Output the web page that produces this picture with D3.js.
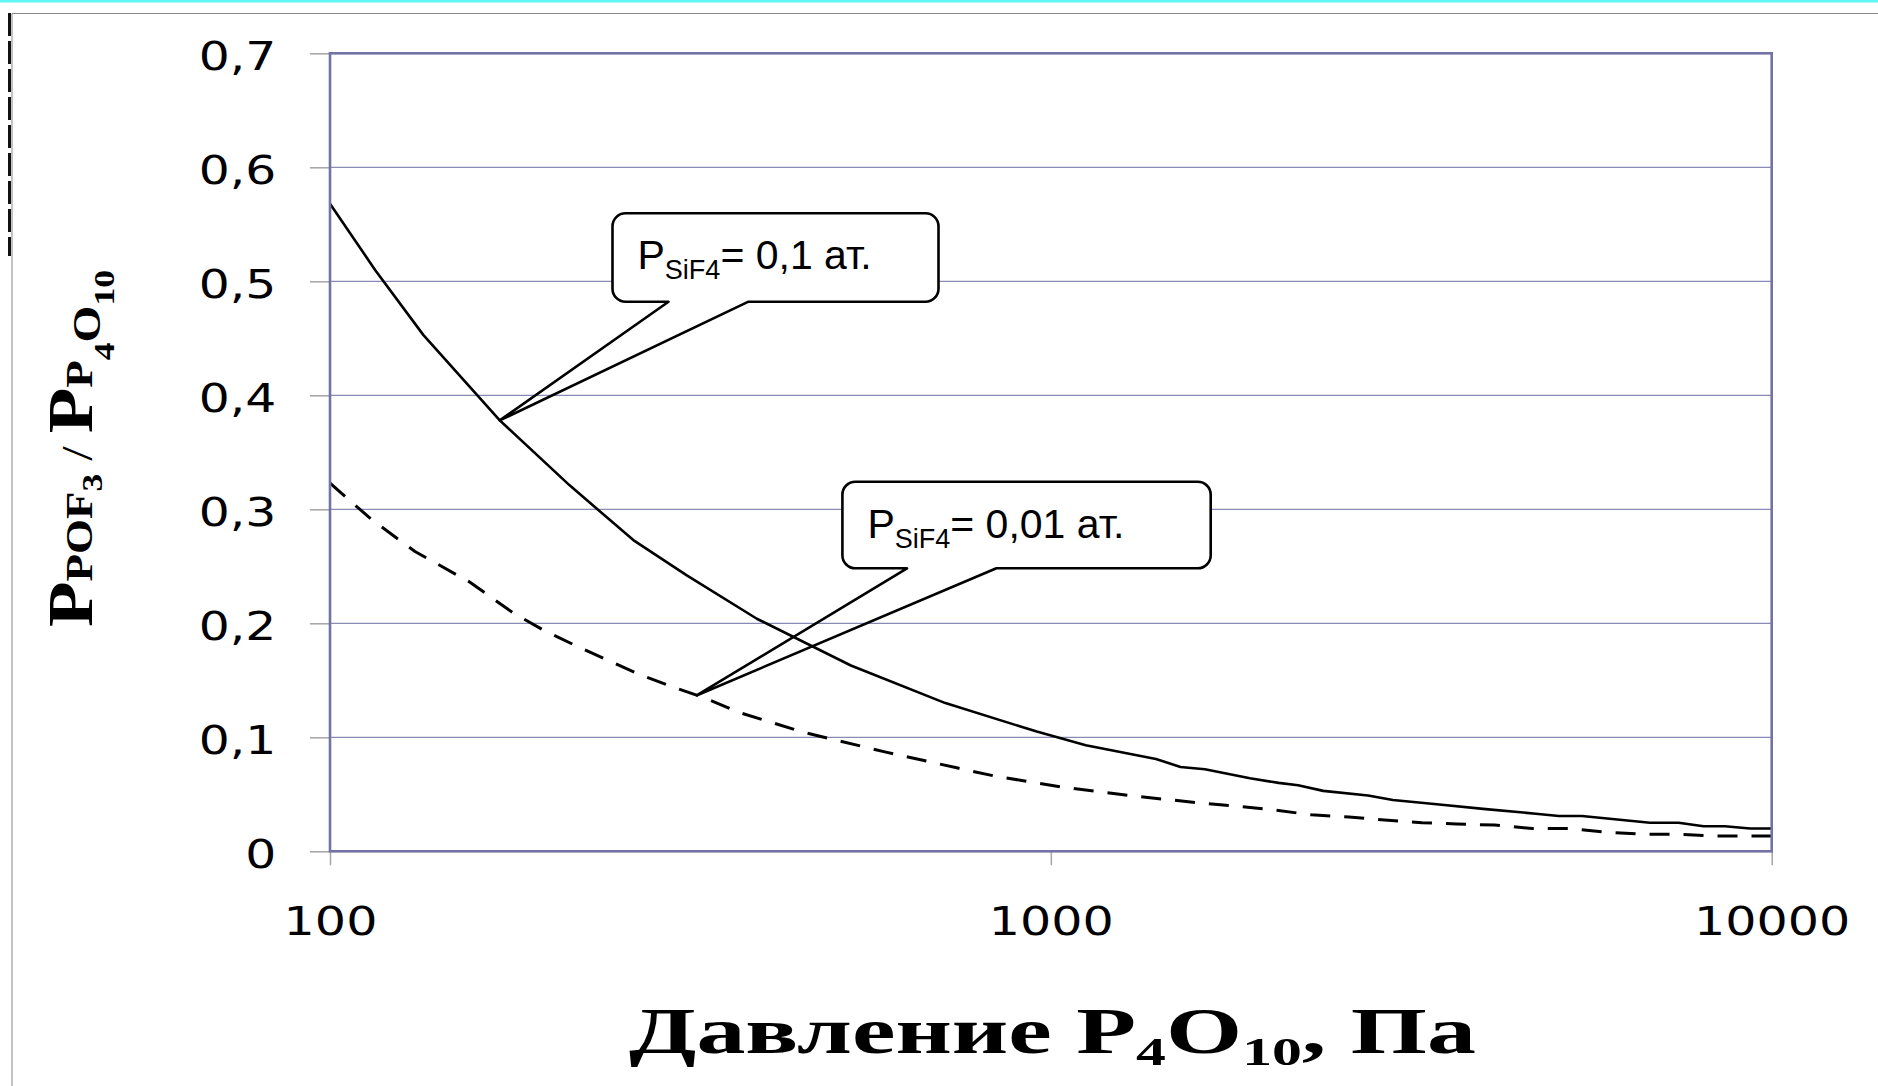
<!DOCTYPE html>
<html>
<head>
<meta charset="utf-8">
<script src="https://cdn.jsdelivr.net/npm/d3@7"></script>
<style>
  html, body { margin: 0; padding: 0; background: #fff; overflow: hidden; }
  svg { display: block; }
</style>
</head>
<body>
<svg id="chart" width="1878" height="1086"></svg>
<script>
// Partial pressure of P4O10, Pa — curve for P(SiF4) = 0.1 atm (solid)
const pressureHigh = [100, 115.5, 134.7, 172, 215, 263.5, 312.6, 391, 528, 714, 956, 1118,
  1399, 1513, 1636, 1889, 2070, 2203, 2387, 2754, 2982, 3458, 4011, 4706, 5068, 5455,
  6779, 7428, 8045, 8613, 9331, 10000];
const ratioHigh = [0.568, 0.510, 0.453, 0.378, 0.321, 0.273, 0.242, 0.204, 0.163, 0.130, 0.105, 0.093,
  0.081, 0.074, 0.072, 0.064, 0.060, 0.058, 0.053, 0.049, 0.045, 0.041, 0.037, 0.033, 0.031, 0.031,
  0.025, 0.025, 0.022, 0.022, 0.020, 0.020];

// Curve for P(SiF4) = 0.01 atm (dashed)
const pressureLow = [100, 114.2, 131.2, 156.4, 179.6, 197.7, 219.9, 242, 269.2, 299.5, 326.1, 372.9,
  456.2, 590.5, 743, 835.6, 1045.6, 1323, 1636, 1998, 2299, 2592, 2904, 3273, 3660, 4127,
  4651, 5218, 5844, 6588, 7390, 8318, 10000];
const ratioLow = [0.323, 0.291, 0.263, 0.236, 0.209, 0.194, 0.180, 0.168, 0.155, 0.144, 0.136, 0.121,
  0.104, 0.087, 0.073, 0.066, 0.056, 0.048, 0.042, 0.037, 0.032, 0.030, 0.0275, 0.025, 0.024, 0.023,
  0.020, 0.020, 0.017, 0.015, 0.015, 0.0134, 0.0134];

// Axis ticks
const xTicks = [100, 1000, 10000];
const xTickLabels = ["100", "1000", "10000"];
const yTicks = [0, 0.1, 0.2, 0.3, 0.4, 0.5, 0.6, 0.7];
const yTickLabels = ["0", "0,1", "0,2", "0,3", "0,4", "0,5", "0,6", "0,7"];

// Callout captions and the pressure each one points at
const calloutValues = ["0,1", "0,01"];
const calloutPressure = [172, 323];

const svg = d3.select("#chart");
const W = 1878, H = 1086;
const plot = { left: 330, right: 1771.7, top: 53.3, bottom: 851.3 };

const x = d3.scaleLog().domain([100, 10000]).range([plot.left, plot.right]);
const y = d3.scaleLinear().domain([0, 0.7]).range([plot.bottom, plot.top]);

// page frame decorations
svg.append("rect").attr("x", 0).attr("y", 0).attr("width", W).attr("height", 2.5).attr("fill", "#5ff6f6");
svg.append("line").attr("x1", 12).attr("x2", W).attr("y1", 13.5).attr("y2", 13.5)
  .attr("stroke", "#8a8a8a").attr("stroke-width", 1.2);
svg.append("line").attr("x1", 12).attr("x2", 12).attr("y1", 13.5).attr("y2", H)
  .attr("stroke", "#9a9a9a").attr("stroke-width", 1.2);
svg.append("line").attr("x1", 9.5).attr("x2", 9.5).attr("y1", 13).attr("y2", 256)
  .attr("stroke", "#111").attr("stroke-width", 3).attr("stroke-dasharray", "23,5");

// horizontal gridlines
svg.append("g").selectAll("line").data(yTicks.filter(d => d > 0)).join("line")
  .attr("x1", plot.left).attr("x2", plot.right)
  .attr("y1", d => y(d)).attr("y2", d => y(d))
  .attr("stroke", "#8a8ab6").attr("stroke-width", 1.3);

// y axis
const yAxis = svg.append("g").attr("transform", `translate(${plot.left},0)`)
  .call(d3.axisLeft(y).tickValues(yTicks).tickFormat((d, i) => yTickLabels[i]).tickSize(20));
yAxis.select(".domain").remove();
yAxis.selectAll(".tick line").attr("stroke", "#a4a4a4").attr("stroke-width", 1.5);
yAxis.selectAll(".tick text")
  .attr("x", 0).attr("y", 16).attr("dy", null)
  .attr("text-anchor", "end")
  .attr("transform", "translate(-53.7,0) scale(1.27,1)")
  .style("font-family", "'DejaVu Sans', sans-serif").style("font-size", "38.4px").attr("fill", "#000");

// x axis
const xAxis = svg.append("g").attr("transform", `translate(0,${plot.bottom})`)
  .call(d3.axisBottom(x).tickValues(xTicks).tickFormat((d, i) => xTickLabels[i]).tickSize(14));
xAxis.select(".domain").remove();
xAxis.selectAll(".tick line").attr("stroke", "#a4a4a4").attr("stroke-width", 1.5);
xAxis.selectAll(".tick text")
  .attr("y", 83.7).attr("dy", null)
  .attr("text-anchor", "middle")
  .attr("transform", "scale(1.28,1)")
  .style("font-family", "'DejaVu Sans', sans-serif").style("font-size", "38.4px").attr("fill", "#000");

// curves
const high = pressureHigh.map((p, i) => ({ p, r: ratioHigh[i] }));
const low = pressureLow.map((p, i) => ({ p, r: ratioLow[i] }));
const line = d3.line().x(d => x(d.p)).y(d => y(d.r));

svg.append("path").datum(high).attr("d", line)
  .attr("fill", "none").attr("stroke", "#000").attr("stroke-width", 2.6).attr("stroke-linejoin", "round");
svg.append("path").datum(low).attr("d", line)
  .attr("fill", "none").attr("stroke", "#000").attr("stroke-width", 3).attr("stroke-dasharray", "20,14");

// plot border
svg.append("rect")
  .attr("x", plot.left).attr("y", plot.top)
  .attr("width", plot.right - plot.left).attr("height", plot.bottom - plot.top)
  .attr("fill", "none").attr("stroke", "#7272a4").attr("stroke-width", 2.6);

// value of a series at a given pressure (linear in log-pressure between points)
function valueAt(series, p) {
  const lp = Math.log10(p);
  for (let i = 1; i < series.length; i++) {
    const a = series[i - 1], b = series[i];
    if (p <= b.p) {
      const t = (lp - Math.log10(a.p)) / (Math.log10(b.p) - Math.log10(a.p));
      return a.r + t * (b.r - a.r);
    }
  }
  return series[series.length - 1].r;
}

// callouts: rounded box with a pointer down to the curve
const callouts = [
  { box: { x: 612.5, y: 213.3, w: 326, h: 88.4 }, base: [56, 136], series: high, p: calloutPressure[0], label: calloutValues[0] },
  { box: { x: 842.4, y: 481.7, w: 368.3, h: 86.6 }, base: [64.6, 154], series: low, p: calloutPressure[1], label: calloutValues[1] }
];

callouts.forEach(c => {
  const { x: bx, y: by, w, h } = c.box;
  const r = 13;
  const tx = x(c.p), ty = y(valueAt(c.series, c.p));
  const g = svg.append("g");
  g.append("rect").attr("x", bx).attr("y", by).attr("width", w).attr("height", h).attr("rx", r).attr("fill", "#fff");
  const path = d3.path();
  path.moveTo(bx + r, by);
  path.lineTo(bx + w - r, by);
  path.arcTo(bx + w, by, bx + w, by + r, r);
  path.lineTo(bx + w, by + h - r);
  path.arcTo(bx + w, by + h, bx + w - r, by + h, r);
  path.lineTo(bx + c.base[1], by + h);
  path.lineTo(tx, ty);
  path.lineTo(bx + c.base[0], by + h);
  path.lineTo(bx + r, by + h);
  path.arcTo(bx, by + h, bx, by + h - r, r);
  path.lineTo(bx, by + r);
  path.arcTo(bx, by, bx + r, by, r);
  path.closePath();
  g.append("path").attr("d", path.toString())
    .attr("fill", "none").attr("stroke", "#000").attr("stroke-width", 2.6).attr("stroke-linejoin", "round");

  const t = g.append("text")
    .attr("x", bx + 25).attr("y", by + 56)
    .style("font-family", "'Liberation Sans', Arial, sans-serif").style("font-size", "41px").attr("fill", "#000");
  t.append("tspan").text("P");
  t.append("tspan").attr("dy", 10).style("font-size", "27px").text("SiF4");
  t.append("tspan").attr("dy", -10).text(`= ${c.label} ат.`);
});

// y axis title: P(POF3) / P(P4O10)
const yTitle = svg.append("g").attr("transform", "translate(92,448.5) rotate(-90)")
  .append("text")
  .attr("text-anchor", "middle")
  .style("font-family", "'Liberation Serif', 'Times New Roman', serif")
  .style("font-weight", "bold").attr("fill", "#000");
yTitle.append("tspan").style("font-size", "63px").text("P");
yTitle.append("tspan").style("font-size", "38px").text("POF");
yTitle.append("tspan").style("font-size", "30px").attr("dy", 10).text("3");
yTitle.append("tspan").style("font-size", "44px").style("font-weight", "normal").attr("dy", -10).text(" / ");
yTitle.append("tspan").style("font-size", "63px").text("P");
yTitle.append("tspan").style("font-size", "38px").text("P");
yTitle.append("tspan").style("font-size", "30px").attr("dy", 22).text("4");
yTitle.append("tspan").style("font-size", "40px").attr("dy", -14).text("O");
yTitle.append("tspan").style("font-size", "30px").attr("dy", 14).text("10");
{
  const w = yTitle.node().getBBox().width;
  yTitle.attr("transform", `scale(${357 / w},1)`);
}

// x axis title
const xTitle = svg.append("g").attr("transform", "translate(1052.5,1052.7)")
  .append("text")
  .attr("text-anchor", "middle")
  .style("font-family", "'Liberation Serif', 'Times New Roman', serif")
  .style("font-weight", "bold").style("font-size", "65.6px").attr("fill", "#000");
xTitle.append("tspan").text("Давление P");
xTitle.append("tspan").style("font-size", "40px").attr("dy", 12).text("4");
xTitle.append("tspan").attr("dy", -12).text("O");
xTitle.append("tspan").style("font-size", "40px").attr("dy", 12).text("10");
xTitle.append("tspan").attr("dy", -12).text(", Па");
{
  const w = xTitle.node().getBBox().width;
  xTitle.attr("transform", `scale(${847 / w},1)`);
}
</script>
</body>
</html>
